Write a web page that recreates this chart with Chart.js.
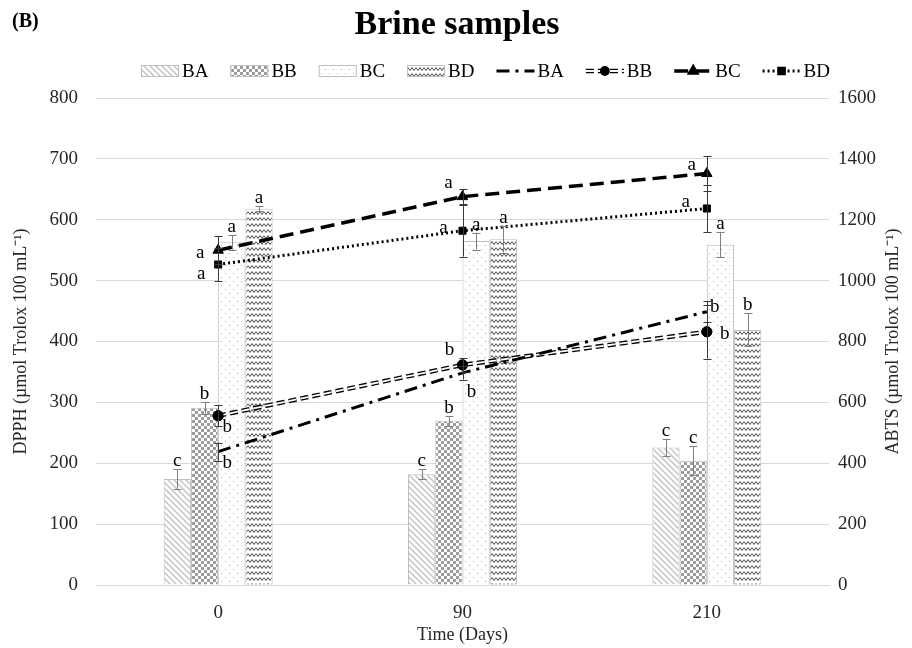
<!DOCTYPE html>
<html>
<head>
<meta charset="utf-8">
<script src="https://cdn.jsdelivr.net/npm/chart.js@4.4.1/dist/chart.umd.min.js"></script>
<style>
  html, body { margin: 0; padding: 0; background: #fff; }
  #wrap { width: 912px; height: 648px; }
</style>
</head>
<body>
<div id="wrap"><canvas id="brineChart" width="912" height="648"></canvas></div>
<script>
// ---- data ----
const days = ["0", "90", "210"];

// DPPH, bars, left axis
const dpphBA = [174, 182, 226];
const dpphBB = [291, 270, 204];
const dpphBC = [563, 565, 559];
const dpphBD = [618, 568, 419];
const dpphErrBA = [16, 8, 14];
const dpphErrBB = [10, 8, 24];
const dpphErrBC = [12, 14, 21];
const dpphErrBD = [4, 22, 27];
const dpphLetBA = ["c", "c", "c"];
const dpphLetBB = ["b", "b", "c"];
const dpphLetBC = ["a", "a", "a"];
const dpphLetBD = ["a", "a", "b"];

// ABTS, lines, right axis
const abtsBA = [438, 697, 898];
const abtsBB = [556, 723, 832];
const abtsBC = [1100, 1276, 1352];
const abtsBD = [1053, 1164, 1237];
const abtsErrBA = [30, 22, 35];
const abtsErrBB = [35, 22, 88];
const abtsErrBC = [45, 25, 57];
const abtsErrBD = [55, 85, 77];
const abtsLetBA = ["b", "b", "b"];
const abtsLetBB = ["b", "b", "b"];
const abtsLetBC = ["a", "a", "a"];
const abtsLetBD = ["a", "a", "a"];

const FONT = "'Liberation Serif', 'Times New Roman', serif";

// fill patterns for the bars
function makePattern(w, h, draw) {
  const c = document.createElement("canvas");
  c.width = w; c.height = h;
  const g = c.getContext("2d");
  g.fillStyle = "#fff";
  g.fillRect(0, 0, w, h);
  draw(g);
  return g.createPattern(c, "repeat");
}
const hatchBA = makePattern(6, 6, g => {
  g.strokeStyle = "#c2c2c2"; g.lineWidth = 1.4;
  g.beginPath();
  g.moveTo(-1, -1); g.lineTo(7, 7);
  g.moveTo(-1, 5); g.lineTo(1, 7);
  g.moveTo(5, -1); g.lineTo(7, 1);
  g.stroke();
});
const checkBB = makePattern(6, 6, g => {
  g.fillStyle = "#9c9c9c";
  g.fillRect(0, 0, 3, 3);
  g.fillRect(3, 3, 3, 3);
});
const dotsBC = makePattern(8, 8, g => {
  g.fillStyle = "#b4b4b4";
  g.fillRect(1, 1, 1, 1);
  g.fillRect(5, 5, 1, 1);
});
const waveBD = makePattern(8, 6, g => {
  g.strokeStyle = "#4a4a4a"; g.lineWidth = 1;
  g.beginPath();
  g.moveTo(0, 1.5); g.lineTo(2, 4.5); g.lineTo(4, 1.5); g.lineTo(6, 4.5); g.lineTo(8, 1.5);
  g.stroke();
});

function barSet(label, data, errors, letters, fill) {
  return {
    type: "bar", label, data, errors, letters,
    backgroundColor: fill, borderColor: "#bfbfbf", borderWidth: 1,
    yAxisID: "y", order: 2, barPercentage: 1, categoryPercentage: 0.446
  };
}
function lineSet(label, data, errors, letters, dash, width, pointStyle, extra) {
  return Object.assign({
    type: "line", label, data, errors, letters,
    yAxisID: "y1", order: 1, fill: false, tension: 0,
    borderColor: "#000", borderWidth: width, borderDash: dash,
    pointStyle: pointStyle, pointRadius: pointStyle ? 5 : 0,
    pointBackgroundColor: "#000", pointBorderColor: "#000", pointBorderWidth: 1
  }, extra || {});
}

// where each line letter sits relative to its point (px)
const lineLetterOffsets = {
  BA: [[9, 11], [9, 19], [8, -5]],
  BB: [[9, 11], [-13, -15], [18, 2]],
  BC: [[-18, 3], [-14, -14], [-15, -8]],
  BD: [[-17, 10], [-19, -3], [-21, -6]]
};

const decor = {
  id: "decor",
  afterDatasetDraw(chart, args) {
    const ds = chart.data.datasets[args.index];
    if (!ds.hollow) return;
    const ctx = chart.ctx;
    const pts = args.meta.data;
    ctx.save();
    ctx.strokeStyle = "#fff";
    ctx.lineWidth = 1.8;
    ctx.setLineDash(ds.borderDash);
    ctx.beginPath();
    pts.forEach((p, j) => j ? ctx.lineTo(p.x, p.y) : ctx.moveTo(p.x, p.y));
    ctx.stroke();
    ctx.restore();
    pts.forEach(p => p.draw(ctx, chart.chartArea));
  },
  afterDatasetsDraw(chart) {
    const ctx = chart.ctx;
    ctx.save();
    ctx.font = "19px " + FONT;
    ctx.textAlign = "center";
    chart.data.datasets.forEach((ds, i) => {
      const meta = chart.getDatasetMeta(i);
      const scale = chart.scales[ds.yAxisID];
      const isBar = ds.type === "bar";
      meta.data.forEach((el, j) => {
        const v = ds.data[j], e = ds.errors[j];
        const yt = scale.getPixelForValue(v + e);
        const yb = scale.getPixelForValue(v - e);
        const x = Math.round(el.x) + 0.5;
        ctx.strokeStyle = isBar ? "#7f7f7f" : "#3a3a3a";
        ctx.lineWidth = 1;
        ctx.setLineDash([]);
        ctx.beginPath();
        ctx.moveTo(x, yt); ctx.lineTo(x, yb);
        ctx.moveTo(x - 4, Math.round(yt) + 0.5); ctx.lineTo(x + 4, Math.round(yt) + 0.5);
        ctx.moveTo(x - 4, Math.round(yb) + 0.5); ctx.lineTo(x + 4, Math.round(yb) + 0.5);
        ctx.stroke();
        ctx.fillStyle = "#000";
        if (isBar) {
          ctx.textBaseline = "alphabetic";
          ctx.fillText(ds.letters[j], el.x, yt - 3);
        } else {
          const off = lineLetterOffsets[ds.label][j];
          ctx.textBaseline = "middle";
          ctx.fillText(ds.letters[j], el.x + off[0], el.y + off[1]);
        }
      });
    });
    ctx.restore();
  },
  afterDraw(chart) {
    const ctx = chart.ctx;
    const area = chart.chartArea;
    ctx.save();
    ctx.fillStyle = "#000";
    ctx.textBaseline = "middle";
    ctx.font = "bold 20px " + FONT;
    ctx.textAlign = "left";
    ctx.fillText("(B)", 12, 22);
    ctx.font = "bold 34px " + FONT;
    ctx.textAlign = "center";
    ctx.fillText("Brine samples", 457, 25);

    // right axis title, read bottom to top like the left one
    ctx.save();
    ctx.translate(893, (area.top + area.bottom) / 2);
    ctx.rotate(-Math.PI / 2);
    ctx.font = "18px " + FONT;
    ctx.fillStyle = "#262626";
    ctx.fillText("ABTS (µmol Trolox 100 mL⁻¹)", 0, 0);
    ctx.restore();

    // legend
    ctx.font = "19px " + FONT;
    ctx.textAlign = "left";
    let x = 141;
    const y = 71;
    chart.data.datasets.forEach(ds => {
      if (ds.type === "bar") {
        ctx.fillStyle = ds.backgroundColor;
        ctx.fillRect(x, y - 6, 38, 12);
        ctx.strokeStyle = "#bfbfbf";
        ctx.lineWidth = 1;
        ctx.strokeRect(x + 0.5, y - 5.5, 37, 11);
        x += 41;
      } else {
        ctx.strokeStyle = "#000";
        ctx.lineWidth = ds.borderWidth;
        ctx.setLineDash(ds.borderDash);
        ctx.beginPath();
        ctx.moveTo(x, y); ctx.lineTo(x + 38, y);
        ctx.stroke();
        if (ds.hollow) {
          ctx.strokeStyle = "#fff";
          ctx.lineWidth = 1.8;
          ctx.beginPath();
          ctx.moveTo(x, y); ctx.lineTo(x + 38, y);
          ctx.stroke();
        }
        ctx.setLineDash([]);
        if (ds.pointStyle) {
          ctx.fillStyle = "#000";
          ctx.strokeStyle = "#000";
          Chart.helpers.drawPoint(ctx, { pointStyle: ds.pointStyle, radius: 4, rotation: 0, borderWidth: 1 }, x + 19, y);
        }
        x += 41;
      }
      ctx.fillStyle = "#000";
      ctx.fillText(ds.label, x, y + 1);
      x += ctx.measureText(ds.label).width + 22;
    });
    ctx.restore();
  }
};

const datasets = [
  barSet("BA", dpphBA, dpphErrBA, dpphLetBA, hatchBA),
  barSet("BB", dpphBB, dpphErrBB, dpphLetBB, checkBB),
  barSet("BC", dpphBC, dpphErrBC, dpphLetBC, dotsBC),
  barSet("BD", dpphBD, dpphErrBD, dpphLetBD, waveBD),
  lineSet("BA", abtsBA, abtsErrBA, abtsLetBA, [13, 6, 3, 6], 3, false),
  lineSet("BB", abtsBB, abtsErrBB, abtsLetBB, [8, 4], 4.5, "circle", { hollow: true }),
  lineSet("BC", abtsBC, abtsErrBC, abtsLetBC, [14, 7], 3.5, "triangle", { pointRadius: 6 }),
  lineSet("BD", abtsBD, abtsErrBD, abtsLetBD, [2, 3], 3, "rect")
];

const tickFont = { family: FONT, size: 19 };
const titleFont = { family: FONT, size: 18 };
const plainNumber = v => String(v);

new Chart(document.getElementById("brineChart"), {
  type: "bar",
  data: { labels: days, datasets },
  options: {
    responsive: false,
    animation: false,
    devicePixelRatio: 1,
    layout: { padding: { top: 98, left: 0, right: 0, bottom: 0 } },
    plugins: { legend: { display: false }, title: { display: false }, tooltip: { enabled: false } },
    scales: {
      x: {
        grid: { display: false, drawTicks: false },
        border: { display: true, color: "#d9d9d9" },
        ticks: { font: tickFont, color: "#262626", padding: 17 },
        title: { display: true, text: "Time (Days)", font: titleFont, color: "#262626", padding: { top: 0, bottom: 2 } },
        afterFit(s) { s.height = 63; }
      },
      y: {
        min: 0, max: 800,
        ticks: { stepSize: 100, font: tickFont, color: "#262626", padding: 18, callback: plainNumber },
        grid: { color: "#d9d9d9", drawTicks: false },
        border: { display: false },
        title: { display: true, text: "DPPH (µmol Trolox 100 mL⁻¹)", font: titleFont, color: "#262626", padding: { top: 10, bottom: 0 } },
        afterFit(s) { s.width = 96; }
      },
      y1: {
        position: "right",
        min: 0, max: 1600,
        ticks: { stepSize: 200, font: tickFont, color: "#262626", padding: 9, callback: plainNumber },
        grid: { display: false, drawTicks: false },
        border: { display: false },
        afterFit(s) { s.width = 83; }
      }
    }
  },
  plugins: [decor]
});
</script>
</body>
</html>
